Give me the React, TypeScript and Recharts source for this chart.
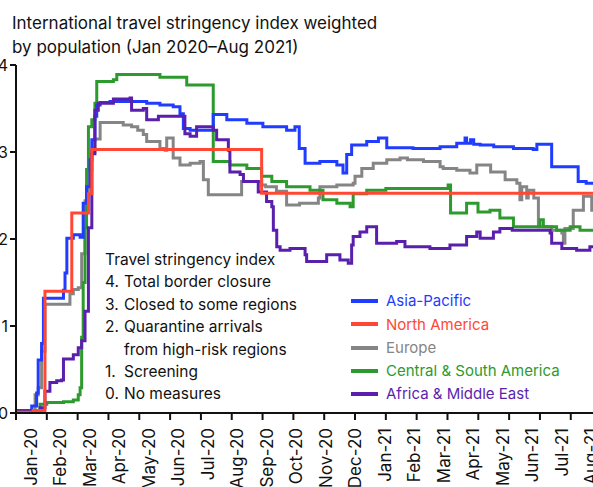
import React from "react";
import { LineChart, Line, XAxis, YAxis } from "recharts";

const MONTH_LABELS = [
  "Jan-20", "Feb-20", "Mar-20", "Apr-20", "May-20", "Jun-20", "Jul-20", "Aug-20", "Sep-20", "Oct-20",
  "Nov-20", "Dec-20", "Jan-21", "Feb-21", "Mar-21", "Apr-21", "May-21", "Jun-21", "Jul-21", "Aug-21",
];
const MONTH_TICKS = MONTH_LABELS.map((_, i) => i);
const Y_TICKS = [0, 1, 2, 3, 4];

const STRINGENCY_LEVELS = [
  ["4.", "Total border closure"],
  ["3.", "Closed to some regions"],
  ["2.", "Quarantine arrivals"],
  ["", "from high-risk regions"],
  ["1.", "Screening"],
  ["0.", "No measures"],
];

// [months since Jan 2020, index value] — value holds from that point on
const asiaPacific = [
  [0, 0.03], [0.51, 0.08], [0.67, 0.23], [0.72, 0.61], [0.83, 0.8], [0.89, 1.32], [1.54, 1.41],
  [1.59, 1.61], [1.65, 2.01], [1.86, 2.05], [2.08, 2.02], [2.18, 2.41], [2.29, 2.6], [2.4, 2.91],
  [2.46, 3.14], [2.56, 3.41], [2.62, 3.54], [2.73, 3.57], [3.05, 3.58], [4.24, 3.56], [4.67, 3.54],
  [5.1, 3.52], [5.32, 3.44], [5.43, 3.27], [5.65, 3.25], [6.4, 3.43], [6.84, 3.37], [7.49, 3.33],
  [8.01, 3.29], [8.78, 3.25], [9.05, 3.29], [9.19, 3.04], [9.38, 2.87], [9.86, 2.89], [10.41, 2.85],
  [10.61, 2.76], [10.73, 2.97], [10.89, 3.08], [11.38, 3.12], [11.76, 3.16], [12.03, 3.05],
  [12.88, 3.04], [13.76, 3.06], [14.3, 3.1], [14.57, 3.16], [14.62, 3.1], [14.75, 3.14], [14.85, 3.09],
  [15.06, 3.08], [15.5, 3.06], [16.14, 3.04], [16.78, 3.03], [16.9, 3.09], [17.38, 2.83],
  [18.24, 2.66], [18.5, 2.64], [19.5, 2.64],
];

const northAmerica = [
  [0, 0.01], [0.56, 0.03], [0.94, 1.4], [1.81, 2.3], [2.35, 2.52], [2.46, 3.03], [7.97, 2.525],
  [19.5, 2.525],
];

const europe = [
  [0, 0.02], [0.62, 0.21], [0.72, 0.29], [0.83, 0.71], [0.94, 1.25], [1.75, 1.37], [1.86, 1.42],
  [2.02, 1.44], [2.13, 1.83], [2.24, 2.44], [2.35, 2.79], [2.46, 3.0], [2.56, 3.15], [2.73, 3.34],
  [3.48, 3.31], [3.75, 3.29], [3.95, 3.25], [4.13, 3.2], [4.24, 3.12], [4.67, 3.04], [4.84, 3.02],
  [4.89, 3.16], [5.1, 2.93], [5.32, 2.85], [5.65, 2.87], [5.97, 2.89], [6.08, 2.68], [6.24, 2.51],
  [7.32, 2.66], [7.97, 2.62], [8.1, 2.6], [8.45, 2.55], [8.78, 2.39], [9.2, 2.41], [9.81, 2.47],
  [9.86, 2.6], [10.41, 2.62], [10.94, 2.64], [11.0, 2.72], [11.22, 2.81], [11.59, 2.87],
  [12.03, 2.91], [12.46, 2.93], [12.7, 2.91], [13.22, 2.89], [13.76, 2.83], [13.86, 2.81],
  [14.3, 2.79], [14.73, 2.76], [14.95, 2.85], [15.4, 2.77], [15.87, 2.68], [16.25, 2.64],
  [16.35, 2.45], [16.41, 2.6], [16.57, 2.47], [16.62, 2.56], [16.8, 2.47], [16.95, 2.14],
  [17.38, 2.1], [17.71, 2.07], [17.76, 1.95], [17.81, 2.12], [18.08, 2.33], [18.41, 2.49],
  [18.68, 2.33], [19.5, 2.33],
];

const centralSouthAmerica = [
  [0, 0.01], [0.78, 0.1], [1.0, 0.12], [1.54, 0.13], [1.86, 0.15], [2.02, 0.21], [2.08, 0.29],
  [2.13, 0.87], [2.18, 1.5], [2.24, 2.13], [2.29, 2.8], [2.35, 3.29], [2.46, 3.37], [2.56, 3.56],
  [2.62, 3.81], [3.16, 3.83], [3.27, 3.89], [4.67, 3.86], [5.54, 3.77], [6.4, 2.89], [6.94, 2.85],
  [7.49, 2.81], [7.97, 2.72], [8.3, 2.66], [8.78, 2.6], [9.54, 2.56], [9.96, 2.45], [10.41, 2.41],
  [10.84, 2.37], [10.94, 2.52], [11.38, 2.56], [12.0, 2.58], [14.02, 2.62], [14.1, 2.3],
  [14.62, 2.41], [14.99, 2.31], [15.38, 2.33], [15.7, 2.24], [16.14, 2.14], [17.0, 2.22],
  [17.11, 2.14], [17.54, 2.1], [17.98, 2.14], [18.3, 2.1], [19.5, 2.1],
];

const africaMiddleEast = [
  [0, 0.02], [0.78, 0.06], [0.94, 0.25], [1.1, 0.35], [1.32, 0.37], [1.48, 0.38], [1.54, 0.62],
  [1.86, 0.67], [2.02, 0.75], [2.13, 0.83], [2.24, 1.17], [2.35, 2.13], [2.46, 2.98], [2.56, 3.48],
  [2.67, 3.56], [3.16, 3.61], [3.7, 3.62], [3.75, 3.48], [4.13, 3.5], [4.24, 3.37], [4.62, 3.41],
  [5.48, 3.21], [5.65, 3.18], [5.86, 3.29], [6.4, 3.25], [6.51, 3.14], [6.89, 3.02], [6.94, 2.77],
  [7.27, 2.74], [7.38, 2.66], [7.86, 2.54], [8.13, 2.43], [8.3, 2.37], [8.35, 2.1], [8.46, 1.91],
  [8.57, 1.87], [8.89, 1.89], [9.38, 1.82], [9.43, 1.74], [10.08, 1.82], [10.51, 1.76],
  [10.78, 1.72], [10.89, 1.93], [10.94, 2.03], [11.16, 2.08], [11.38, 2.14], [11.7, 1.95],
  [12.35, 1.97], [12.62, 1.91], [13.43, 1.89], [14.08, 1.93], [14.62, 2.03], [14.95, 2.08],
  [15.06, 2.01], [15.49, 2.08], [15.7, 2.12], [16.1, 2.1], [17.33, 2.07], [17.38, 1.95],
  [17.71, 1.89], [18.19, 1.87], [18.62, 1.91], [19.5, 1.91],
];

const REGIONS = [
  { name: "Asia-Pacific", color: "#1f3cff", values: asiaPacific },
  { name: "North America", color: "#ff4733", values: northAmerica },
  { name: "Europe", color: "#858585", values: europe },
  { name: "Central & South America", color: "#2c9a2c", values: centralSouthAmerica },
  { name: "Africa & Middle East", color: "#5b1fae", values: africaMiddleEast },
];
// drawing order, bottom to top
const DRAW_ORDER = [2, 3, 0, 4, 1];

const FONT = "Inter, 'Noto Sans', sans-serif";

const MonthTick = (props: any) => {
  const { x, y, payload } = props;
  const cx = x + 14.7 - 1.32 * payload.value;
  const ty = y + 6;
  return (
    <text
      x={cx}
      y={ty}
      transform={`rotate(-90, ${cx}, ${ty})`}
      textAnchor="end"
      dominantBaseline="central"
      fontSize={17}
      fontFamily={FONT}
      fill="#111"
    >
      {MONTH_LABELS[payload.value]}
    </text>
  );
};

export default function App() {
  return (
    <div
      style={{
        position: "fixed",
        left: 0,
        top: 0,
        width: 593,
        height: 487,
        overflow: "hidden",
        background: "#fff",
        fontFamily: FONT,
        color: "#111",
      }}
    >
      <LineChart width={617} height={487} margin={{ top: 65, right: 0, bottom: 0, left: 0 }}>
        <XAxis
          dataKey="m"
          type="number"
          domain={[0, 19.5]}
          ticks={MONTH_TICKS}
          interval={0}
          height={74}
          tickSize={7}
          axisLine={{ stroke: "#111", strokeWidth: 2 }}
          tickLine={{ stroke: "#111", strokeWidth: 2 }}
          tick={<MonthTick />}
        />
        <YAxis
          type="number"
          domain={[0, 4]}
          ticks={Y_TICKS}
          width={16}
          tickSize={6}
          axisLine={{ stroke: "#111", strokeWidth: 2 }}
          tickLine={{ stroke: "#111", strokeWidth: 2 }}
          tick={{ fontSize: 16, fontFamily: FONT, fill: "#111" }}
        />
        {DRAW_ORDER.map((i) => {
          const r = REGIONS[i];
          return (
            <Line
              key={r.name}
              data={r.values.map(([m, v]) => ({ m, v }))}
              dataKey="v"
              type="stepAfter"
              stroke={r.color}
              strokeWidth={3}
              dot={false}
              activeDot={false}
              isAnimationActive={false}
            />
          );
        })}
      </LineChart>

      <div style={{ position: "absolute", left: 12, top: 11, fontSize: 17, lineHeight: "24px", whiteSpace: "nowrap" }}>
        International travel stringency index weighted
        <br />
        by population (Jan 2020–Aug 2021)
      </div>

      <div style={{ position: "absolute", left: 105, top: 249, fontSize: 15.5, lineHeight: "22.4px", whiteSpace: "nowrap" }}>
        <div>Travel stringency index</div>
        {STRINGENCY_LEVELS.map(([num, text], i) => (
          <div key={i}>
            <span style={{ display: "inline-block", width: 19 }}>{num}</span>
            {text}
          </div>
        ))}
      </div>

      <div style={{ position: "absolute", left: 351, top: 289.4, fontSize: 15, lineHeight: "23.25px", whiteSpace: "nowrap" }}>
        {REGIONS.map((r) => (
          <div key={r.name} style={{ display: "flex", alignItems: "center", color: r.color }}>
            <span style={{ display: "inline-block", width: 27, height: 4, background: r.color, marginRight: 8 }} />
            {r.name}
          </div>
        ))}
      </div>
    </div>
  );
}
